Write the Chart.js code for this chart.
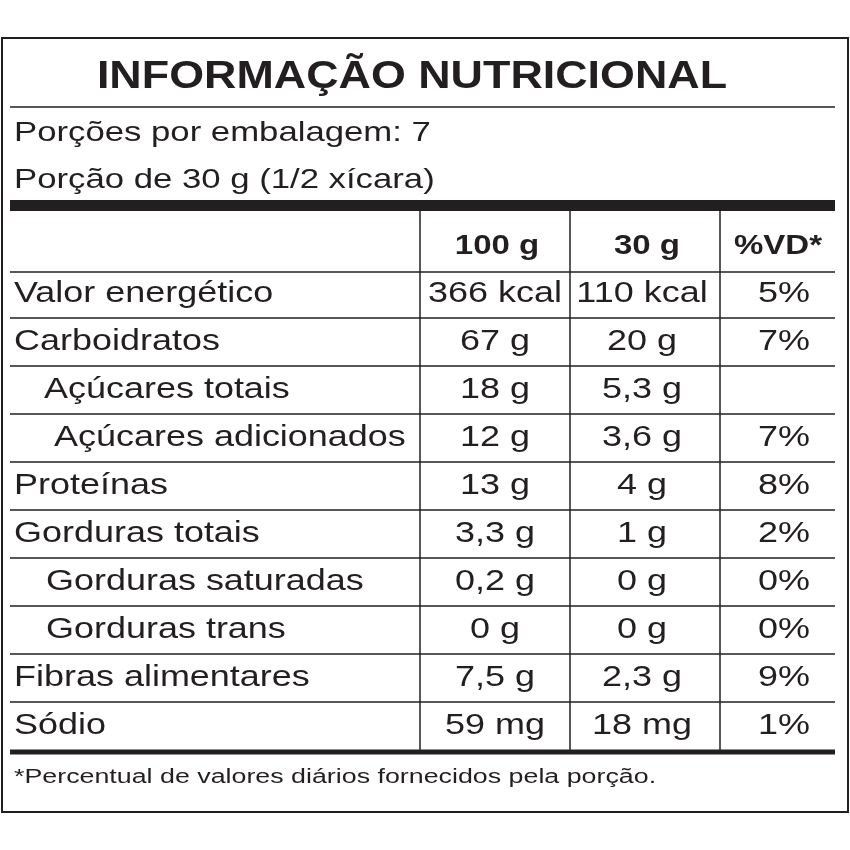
<!DOCTYPE html>
<html>
<head>
<meta charset="utf-8">
<script src="https://cdn.jsdelivr.net/npm/chart.js@4"></script>
<style>
  html, body { margin: 0; padding: 0; background: #fff; }
  #wrap { width: 850px; height: 850px; }
</style>
</head>
<body>
<div id="wrap"><canvas id="tabela"></canvas></div>
<script>
const title = "INFORMAÇÃO NUTRICIONAL";
const servings = ["Porções por embalagem: 7", "Porção de 30 g (1/2 xícara)"];
const headers = ["100 g", "30 g", "%VD*"];
const nutrients = ["Valor energético", "Carboidratos", "Açúcares totais", "Açúcares adicionados",
  "Proteínas", "Gorduras totais", "Gorduras saturadas", "Gorduras trans", "Fibras alimentares", "Sódio"];
const indent = [0, 0, 1, 2, 0, 0, 3, 3, 0, 0];
const per100 = ["366 kcal", "67 g", "18 g", "12 g", "13 g", "3,3 g", "0,2 g", "0 g", "7,5 g", "59 mg"];
const perServing = ["110 kcal", "20 g", "5,3 g", "3,6 g", "4 g", "1 g", "0 g", "0 g", "2,3 g", "18 mg"];
const dailyValue = ["5%", "7%", "", "7%", "8%", "2%", "0%", "0%", "9%", "1%"];
const footnote = "*Percentual de valores diários fornecidos pela porção.";

const FONT = "'Liberation Sans', Arial, sans-serif";
const INK = "#231f20";

// desenha a tabela usando as escalas do gráfico (coordenadas 0..850)
const tablePlugin = {
  id: "tabela",
  afterDraw(chart) {
    const ctx = chart.ctx;
    const X = v => chart.scales.x.getPixelForValue(v);
    const Y = v => chart.scales.y.getPixelForValue(v);
    ctx.save();
    ctx.fillStyle = INK;
    ctx.strokeStyle = INK;

    const line = (x1, y1, x2, y2, w) => {
      ctx.lineWidth = w;
      ctx.beginPath();
      ctx.moveTo(X(x1), Y(y1));
      ctx.lineTo(X(x2), Y(y2));
      ctx.stroke();
    };
    // texto esticado na horizontal, como no rótulo original
    const text = (s, x, y, align, font, sx) => {
      ctx.save();
      ctx.font = font;
      ctx.textAlign = align;
      ctx.textBaseline = "middle";
      ctx.translate(X(x), Y(y));
      ctx.scale(sx || 1.24, 1);
      ctx.fillText(s, 0, 0);
      ctx.restore();
    };

    ctx.lineWidth = 2;
    ctx.strokeRect(X(2), Y(38), X(848) - X(2), Y(812) - Y(38));

    text(title, 412, 78, "center", "bold 38px " + FONT, 1.18);
    line(10, 107, 835, 107, 1.5);
    text(servings[0], 14, 133, "left", "28px " + FONT);
    text(servings[1], 14, 180, "left", "28px " + FONT);
    ctx.fillRect(X(10), Y(200), X(835) - X(10), Y(211) - Y(200));

    const rowH = 48;
    const headY = 246;
    const colX = [420, 570, 720];
    colX.forEach(cx => line(cx, 211, cx, 752, 1.5));

    text(headers[0], 497, headY, "center", "bold 28px " + FONT, 1.18);
    text(headers[1], 647, headY, "center", "bold 28px " + FONT, 1.18);
    text(headers[2], 778, headY, "center", "bold 28px " + FONT, 1.18);
    line(10, headY + 26, 835, headY + 26, 1.5);

    const indentX = [14, 44, 54, 46];
    nutrients.forEach((n, i) => {
      const y = headY + rowH * (i + 1);
      text(n, indentX[indent[i]], y, "left", "29px " + FONT);
      text(per100[i], 495, y, "center", "29px " + FONT);
      text(perServing[i], 642, y, "center", "29px " + FONT);
      text(dailyValue[i], 810, y, "right", "29px " + FONT);
      if (i < nutrients.length - 1) line(10, y + 24, 835, y + 24, 1.5);
    });
    line(10, 752, 835, 752, 5);

    text(footnote, 14, 777, "left", "20px " + FONT, 1.34);
    ctx.restore();
  }
};

new Chart(document.getElementById("tabela"), {
  type: "scatter",
  data: { datasets: [{ data: [], pointRadius: 0 }] },
  options: {
    responsive: true,
    maintainAspectRatio: false,
    animation: false,
    layout: { padding: 0 },
    plugins: { legend: { display: false }, tooltip: { enabled: false } },
    scales: {
      x: { type: "linear", min: 0, max: 850, display: false },
      y: { type: "linear", min: 0, max: 850, reverse: true, display: false }
    }
  },
  plugins: [tablePlugin]
});
</script>
</body>
</html>
